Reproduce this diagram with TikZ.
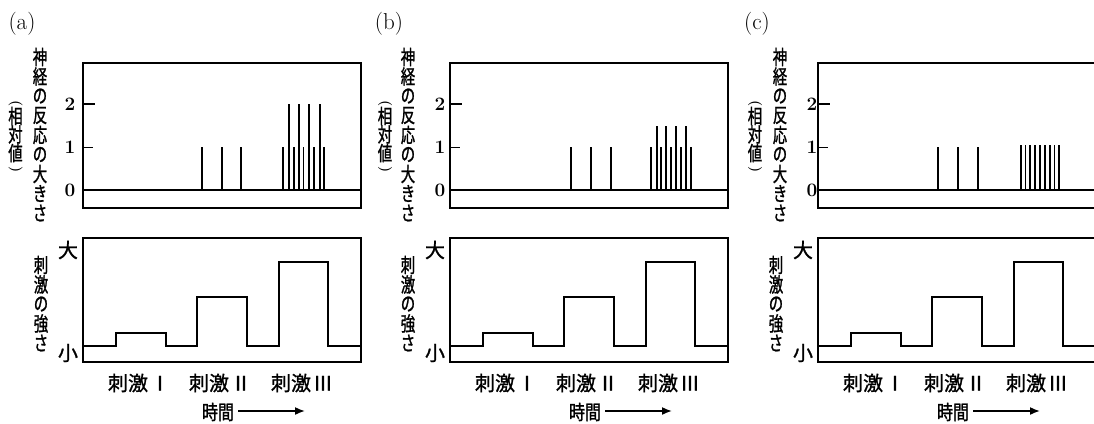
\documentclass[tikz,border=0pt]{standalone}
\usepackage{fontspec}
\newfontfamily\jp[FakeBold=1.2]{Noto Sans CJK JP}
\newfontfamily\jpv[FakeStretch=0.72,FakeBold=1.2]{Noto Sans CJK JP}
\newfontfamily\jpt[FakeStretch=0.8,FakeBold=1.2]{Noto Sans CJK JP}
\usetikzlibrary{arrows.meta}
\tikzset{
  frame/.style={line width=1.3pt},
  zeroline/.style={line width=1.6pt},
  spike/.style={line width=1.8pt},
  tickmajor/.style={line width=1.6pt},
  tickminor/.style={line width=0.7pt},
  stim/.style={line width=2pt, line join=miter},
  num/.style={font=\bfseries\fontsize{19}{19}\selectfont, inner sep=0pt},
  panlab/.style={font=\fontsize{23}{23}\selectfont, inner sep=0pt},
  vchar/.style={font=\jpv\fontsize{20}{20}\selectfont, inner sep=0pt},
  vparen/.style={font=\bfseries\fontsize{14}{14}\selectfont, inner sep=0pt, rotate=-90},
  htext/.style={font=\jp\fontsize{20}{20}\selectfont, inner sep=0pt},
  ttext/.style={font=\jpt\fontsize{20}{20}\selectfont, inner sep=0pt},
  timearrow/.style={line width=1.6pt, shorten <=4pt, -{Latex[length=10pt,width=8pt]}}
}
% vertical text: one node per character
\newcommand{\vstack}[5]{%
  \foreach \c [count=\i from 0] in {#5}
    \node[vchar] (#1\i) at (#2,{#3+#4*\i}) {\c};
}
\newcommand{\panelbase}[4]{%
  \node[panlab] (lab) at (22,24) {#1};
  \draw[frame] (83,63) rectangle (361,208);
  \draw[zeroline] (83,190) -- (361,190);
  \draw[tickmajor] (83,104) -- (95,104);
  \draw[tickminor] (83,147) -- (93,147);
  \node[num] (n2) at (#2,104) {2};
  \node[num] (n1) at (#2,147) {1};
  \node[num] (n0) at (#2,190) {0};
  \vstack{resp}{#3}{57}{19.5}{神,経,の,反,応,の,大,き,さ}
  \node[vparen] (lp) at (#4,104) {(};
  \vstack{rel}{#4}{116}{18.5}{相,対,値}
  \node[vparen] (rp) at (#4,170) {)};
  \draw[frame] (83,238) rectangle (361,362);
  \draw[stim] (83,346) -- (116,346) -- (116,333) -- (166,333) -- (166,346)
     -- (197,346) -- (197,297) -- (247,297) -- (247,346)
     -- (279,346) -- (279,262) -- (328,262) -- (328,346) -- (361,346);
  \node[htext] (big) at (68,250) {大};
  \node[htext] (small) at (68,353) {小};
  \vstack{str}{41}{265}{19.5}{刺,激,の,強,さ}
  \node[htext] (s1) at (139,383) {刺激\hspace{2pt}Ⅰ};
  \node[htext] (s2) at (220,383) {刺激\hspace{2pt}Ⅱ};
  \node[htext] (s3) at (302,383) {刺激\hspace{2pt}Ⅲ};
  \node[ttext] (time) at (218,412) {時間};
  \coordinate (tend) at (305,411);
  \draw[timearrow] (time.east |- tend) -- (tend);
}
\begin{document}
\begin{tikzpicture}[x=1pt,y=-1pt]
\fill[white] (0,0) rectangle (1094,423);
\clip (0,0) rectangle (1094,423);
\begin{scope}[name prefix=a-]
  \panelbase{(a)}{70}{40}{15.5}
  \foreach \sx/\h in {201.7/1, 221.7/1, 241/1, 283.3/1, 289/2, 294/1, 299/2, 303.5/1, 309.3/2, 314.3/1, 319.7/2, 324.3/1}
    \draw[spike] (\sx,190) -- (\sx,{190-43*\h});
\end{scope}
\begin{scope}[xshift=367pt, name prefix=b-]
  \panelbase{(b)}{73}{41}{18}
  \foreach \sx/\h in {203.7/1, 223.7/1, 243.7/1, 284/1, 289.7/1.5, 294/1, 299/1.5, 304/1, 309/1.5, 314/1, 319/1.5, 324/1}
    \draw[spike] (\sx,190) -- (\sx,{190-43*\h});
\end{scope}
\begin{scope}[xshift=735pt, name prefix=c-]
  \panelbase{(c)}{77}{45}{20}
  \foreach \sx/\h in {203.3/1, 223.3/1, 243.3/1}
    \draw[spike] (\sx,190) -- (\sx,{190-43*\h});
  \foreach \k in {0,...,8}
    \draw[spike] ({285.7+4.83*\k},190) -- ({285.7+4.83*\k},{190-43*1.05});
\end{scope}
\end{tikzpicture}
\end{document}
